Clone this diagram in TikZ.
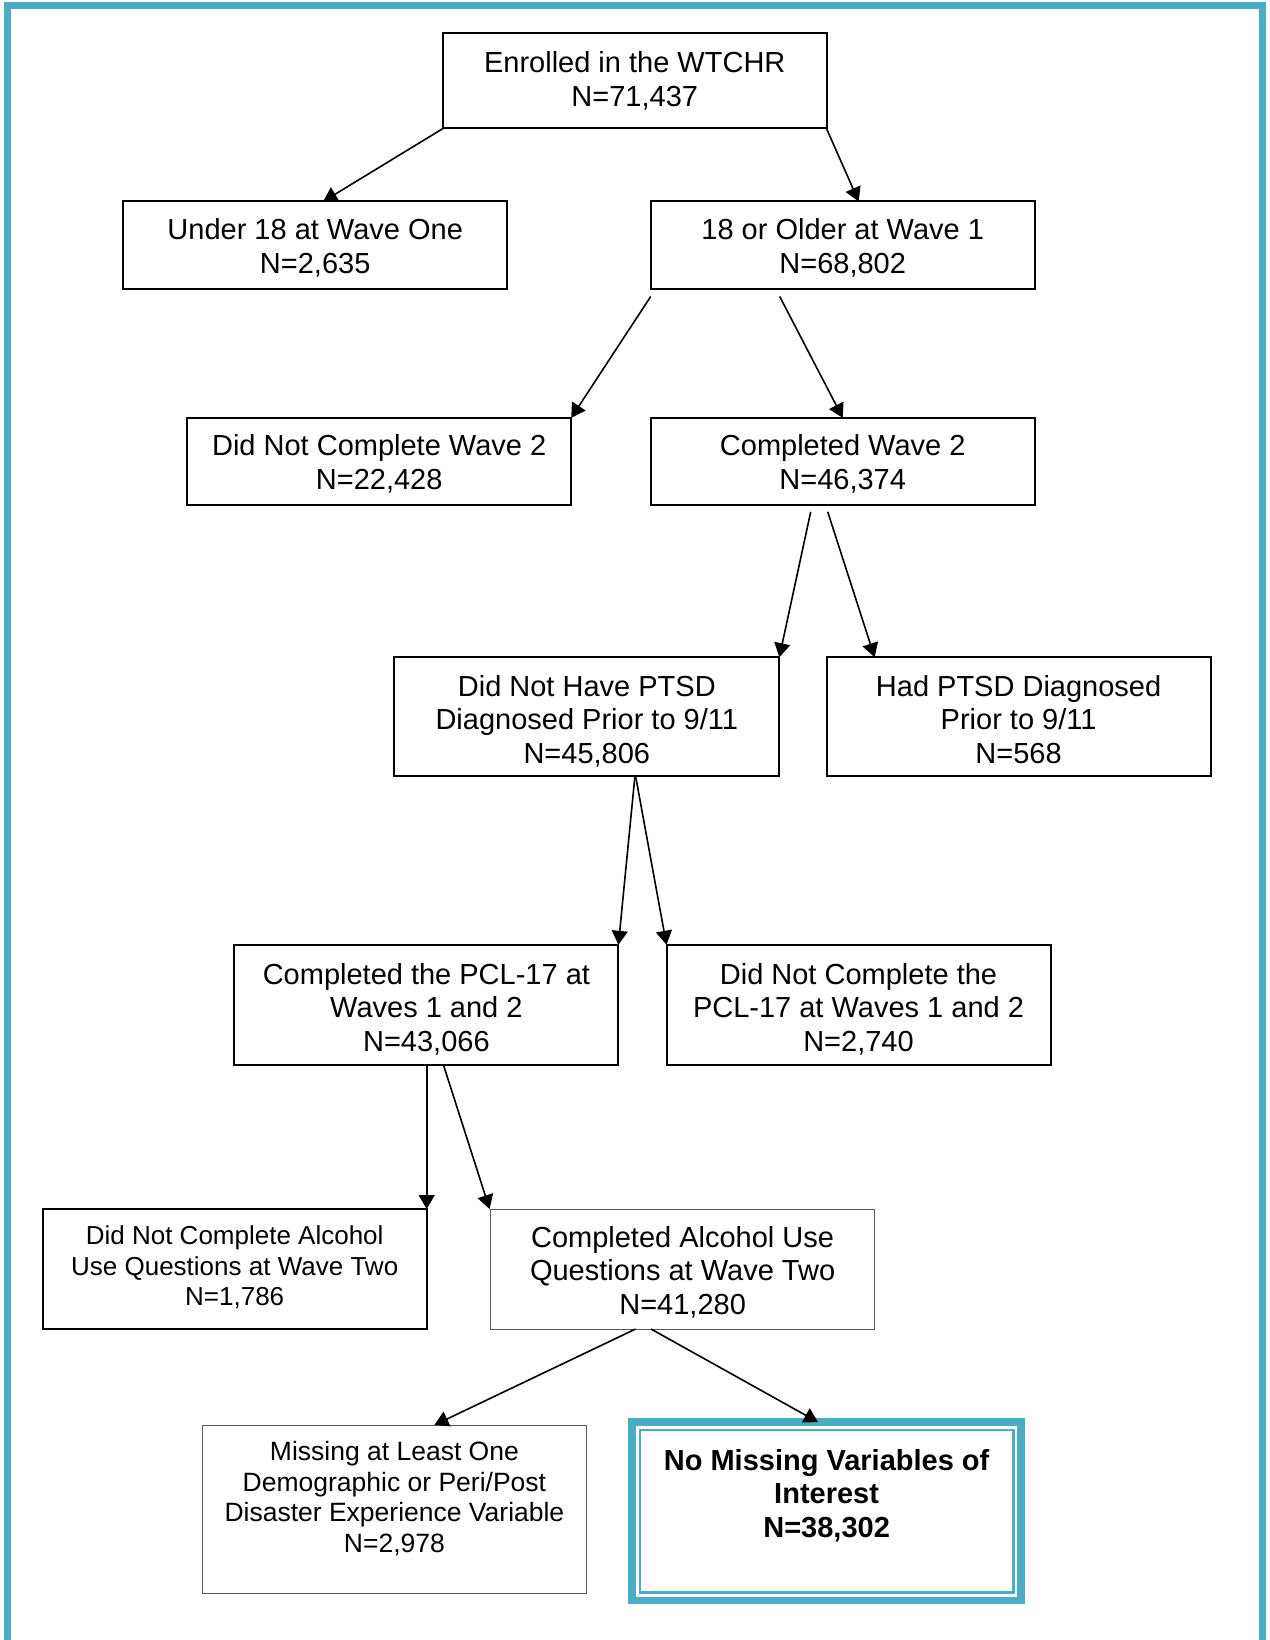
\documentclass[tikz,border=0pt]{standalone}
\usepackage{fontspec}
\setmainfont{Liberation Sans}
\usetikzlibrary{arrows.meta,calc}
\definecolor{frameteal}{HTML}{4BACC6}
\definecolor{thingray}{HTML}{595959}
\newcommand\boxtext[2][5pt]{\raisebox{-#1}[\height][\depth]{\begin{tabular}{@{}c@{}}#2\end{tabular}}}
\begin{document}
\begin{tikzpicture}[x=1pt,y=-1pt,
  box/.style={draw=black, line width=2pt, minimum width=384pt, outer sep=0pt, inner sep=0pt,
              align=center, font=\fontsize{29}{33.5}\selectfont, fill=white},
  thinbox/.style={box, draw=thingray, line width=1pt},
  smalltext/.style={font=\fontsize{26}{30.5}\selectfont},
  arr/.style={-{Triangle[length=14pt,width=16pt]}, line width=1.6pt}]
\useasboundingbox (0,0) rectangle (1269,1640);
\fill[white] (0,0) rectangle (1269,1640);
% outer frame
\draw[frameteal, line width=6.8pt] (7.5,1640) -- (7.5,5.9) -- (1262.4,5.9) -- (1262.4,1640);

% boxes
\node[box, minimum width=383.5pt, minimum height=95pt] (enr) at (634.75,81) {Enrolled in the WTCHR\\N=71,437};
\node[box, minimum height=87pt] (u18) at (315.2,245) {\boxtext{Under 18 at Wave One\\N=2,635}};
\node[box, minimum height=87pt] (o18) at (842.7,245) {\boxtext{18 or Older at Wave 1\\N=68,802}};
\node[box, minimum height=87pt] (dnc2) at (379.2,461.3) {\boxtext[4.5pt]{Did Not Complete Wave 2\\N=22,428}};
\node[box, minimum height=87pt] (c2) at (842.7,461.3) {\boxtext[4.5pt]{Completed Wave 2\\N=46,374}};
\node[box, minimum width=385pt, minimum height=119pt] (noptsd) at (586.8,716.7) {\boxtext[6.5pt]{Did Not Have PTSD\\Diagnosed Prior to 9/11\\N=45,806}};
\node[box, minimum height=119pt] (ptsd) at (1018.6,716.7) {\boxtext[6.5pt]{Had PTSD Diagnosed\\Prior to 9/11\\N=568}};
\node[box, minimum height=120pt] (pcl) at (426.4,1004.8) {\boxtext[6pt]{Completed the PCL-17 at\\Waves 1 and 2\\N=43,066}};
\node[box, minimum height=120pt] (npcl) at (858.5,1004.8) {\boxtext[6pt]{Did Not Complete the\\PCL-17 at Waves 1 and 2\\N=2,740}};
\node[box, smalltext, minimum height=120pt] (dnca) at (234.7,1269) {\boxtext[0pt]{Did Not Complete Alcohol\\Use Questions at Wave Two\\N=1,786}};
\node[thinbox, minimum height=120pt] (ca) at (682.6,1269) {\boxtext{Completed Alcohol Use\\Questions at Wave Two\\N=41,280}};
\node[thinbox, minimum height=168pt] (miss) at (394.4,1509) {};
\node[align=center, inner sep=0pt, font=\fontsize{26.5}{30.5}\selectfont] (misstxt) at (394.4,1498.5)
  {Missing at Least One\\Demographic or Peri/Post\\Disaster Experience Variable\\N=2,978};
\node[draw=frameteal, line width=7.5pt, fill=white, outer sep=0pt, inner sep=0pt,
      minimum width=389.2pt, minimum height=178.2pt] (nomiss) at (826.6,1511.2) {};
\draw[frameteal, line width=2.4pt] ([shift={(7.8pt,-8pt)}]nomiss.north west) rectangle ([shift={(-7.8pt,8pt)}]nomiss.south east);
\node[align=center, inner sep=0pt, font=\bfseries\fontsize{29}{33.5}\selectfont] (nomisstxt) at (826.6,1495.5)
  {No Missing Variables of\\Interest\\N=38,302};

% connectors
\draw[arr] (enr.south west) -- ([xshift=8pt]u18.north);
\draw[arr] (enr.south east) -- ([xshift=16pt]o18.north);
\draw[arr] ([yshift=-8pt]o18.south west) -- (dnc2.north east);
\draw[arr] ([xshift=-63pt,yshift=-8pt]o18.south) -- (c2.north);
\draw[arr] ([xshift=-32pt,yshift=-7pt]c2.south) -- (noptsd.north east);
\draw[arr] ([xshift=-15pt,yshift=-7pt]c2.south) -- ([xshift=48pt]ptsd.north west);
\draw[arr] ([xshift=48pt,yshift=-1pt]noptsd.south) -- (pcl.north east);
\draw[arr] ([xshift=49pt,yshift=-1pt]noptsd.south) -- (npcl.north west);
\draw[arr] (pcl.south -| dnca.north east) -- (dnca.north east);
\draw[arr] ([xshift=17pt]pcl.south) -- ([xshift=-1pt]ca.north west);
\draw[arr] ([xshift=-47pt]ca.south) -- ([xshift=40pt]miss.north);
\draw[arr] ([xshift=-31.6pt]ca.south) -- ([xshift=-8.6pt]nomiss.north);
\end{tikzpicture}
\end{document}
